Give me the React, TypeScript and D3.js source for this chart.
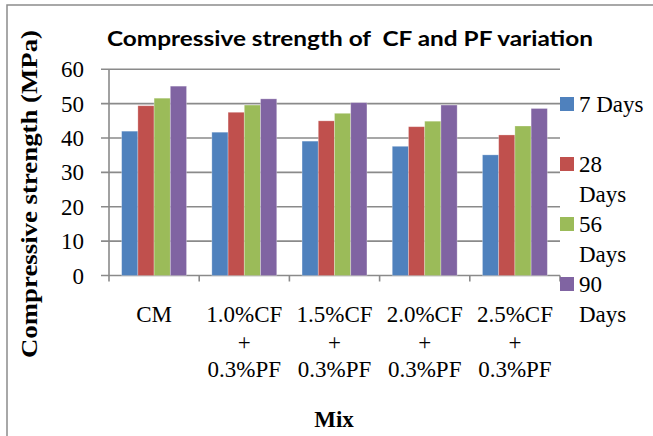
import React from "react";
import * as d3 from "d3";

const categories = ["CM", "1.0%CF\n+\n0.3%PF", "1.5%CF\n+\n0.3%PF", "2.0%CF\n+\n0.3%PF", "2.5%CF\n+\n0.3%PF"];
const seriesNames = ["7 Days", "28 Days", "56 Days", "90 Days"];
const days7 = [42.0, 41.7, 39.1, 37.6, 35.1];
const days28 = [49.4, 47.5, 45.0, 43.3, 40.9];
const days56 = [51.6, 49.6, 47.2, 44.9, 43.5];
const days90 = [55.1, 51.4, 50.3, 49.6, 48.6];
const yTicks = [0, 10, 20, 30, 40, 50, 60];
const colors = ["#4F81BD", "#C0504D", "#9BBB59", "#8064A2"];

const W = 653;
const H = 436;

export default function App() {
  const seriesValues = [days7, days28, days56, days90];
  const x0 = d3.scaleBand<string>().domain(categories).range([109, 560]).paddingInner(0).paddingOuter(0);
  const x1 = d3
    .scaleBand<string>()
    .domain(seriesNames)
    .range([0, x0.bandwidth()])
    .paddingInner(0)
    .paddingOuter(0.78);
  const y = d3.scaleLinear().domain([0, 60]).range([275.5, 69.3]);
  const serif = "'Liberation Serif', 'Times New Roman', serif";
  const grid = "#8a8a8a";
  const legendStep = 60;
  const legendTop = 104;

  return (
    <svg
      width={W}
      height={H}
      style={{ position: "absolute", left: 0, top: 0, background: "#fff" }}
      xmlns="http://www.w3.org/2000/svg"
    >
      <rect x={7} y={5} width={700} height={500} fill="#fff" stroke="#8c8c8c" strokeWidth={1.5} />
      {/* title */}
      <text
        x={107}
        y={46}
        fontFamily="Lato, 'Liberation Sans', sans-serif"
        fontWeight="bold"
        fontSize={20.5}
        textLength={486}
        lengthAdjust="spacingAndGlyphs"
        fill="#000"
        style={{ whiteSpace: "pre" }}
      >
        {"Compressive strength of  CF and PF variation"}
      </text>
      {/* gridlines */}
      {yTicks.map((t) => (
        <g key={t}>
          <line x1={101} x2={560} y1={y(t)} y2={y(t)} stroke={grid} strokeWidth={1.6} />
          <text x={84} y={y(t) + 8} textAnchor="end" fontFamily={serif} fontSize={23} fill="#000">
            {t}
          </text>
        </g>
      ))}
      {/* y axis */}
      <line x1={109} x2={109} y1={y(60)} y2={y(0) + 6} stroke={grid} strokeWidth={1.6} />
      {/* x ticks */}
      {categories.map((c, i) => (
        <line
          key={"t" + i}
          x1={(x0(c) as number) + x0.bandwidth()}
          x2={(x0(c) as number) + x0.bandwidth()}
          y1={y(0)}
          y2={y(0) + 6}
          stroke={grid}
          strokeWidth={1.6}
        />
      ))}
      {/* bars */}
      {categories.map((c, i) => (
        <g key={"g" + i} transform={`translate(${x0(c)},0)`}>
          {seriesNames.map((s, j) => {
            const v = seriesValues[j][i];
            return (
              <rect
                key={s}
                x={x1(s) as number}
                y={y(v)}
                width={x1.bandwidth()}
                height={y(0) - y(v)}
                fill={colors[j]}
                stroke="#ffffff"
                strokeOpacity={0.35}
                strokeWidth={0.8}
              />
            );
          })}
        </g>
      ))}
      {/* category labels */}
      {categories.map((c, i) => {
        const cx = (x0(c) as number) + x0.bandwidth() / 2;
        const lines = c.split("\n");
        return (
          <text key={"l" + i} textAnchor="middle" fontFamily={serif} fontSize={23} fill="#000">
            {lines.map((ln, k) => (
              <tspan key={k} x={cx} y={322 + k * 27.5}>
                {ln}
              </tspan>
            ))}
          </text>
        );
      })}
      {/* x axis title */}
      <text x={334} y={427} textAnchor="middle" fontFamily={serif} fontWeight="bold" fontSize={23} fill="#000">
        Mix
      </text>
      {/* y axis title */}
      <text
        transform="translate(37,194) rotate(-90)"
        textAnchor="middle"
        fontFamily={serif}
        fontWeight="bold"
        fontSize={23}
        textLength={328}
        lengthAdjust="spacingAndGlyphs"
        fill="#000"
      >
        Compressive strength (MPa)
      </text>
      {/* legend */}
      {seriesNames.map((s, j) => {
        const cy = legendTop + j * legendStep;
        const lines = s.length > 6 ? s.split(" ") : [s];
        return (
          <g key={"lg" + s}>
            <rect x={560} y={cy - 7} width={14} height={14} fill={colors[j]} />
            <text fontFamily={serif} fontSize={23} fill="#000">
              {lines.map((ln, k) => (
                <tspan key={k} x={579} y={cy + 8 + k * 30}>
                  {ln}
                </tspan>
              ))}
            </text>
          </g>
        );
      })}
    </svg>
  );
}
